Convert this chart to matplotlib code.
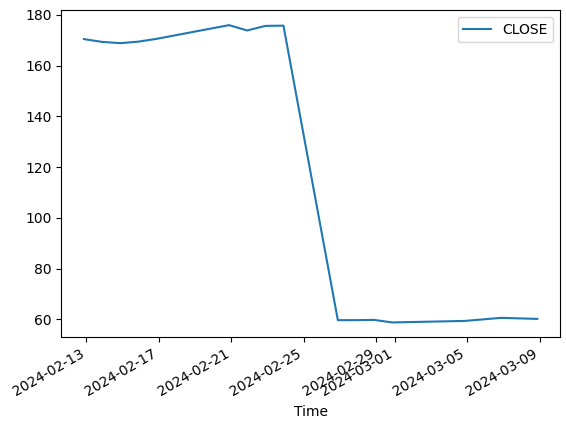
import numpy as np
import matplotlib
matplotlib.use("Agg")
import matplotlib.pyplot as plt

# timestamps sit a few hours before midnight
dates = np.array(['2024-02-12T21:00', '2024-02-13T21:00', '2024-02-14T21:00', '2024-02-15T21:00',
                  '2024-02-16T21:00', '2024-02-20T21:00', '2024-02-21T21:00', '2024-02-22T21:00',
                  '2024-02-23T21:00', '2024-02-26T21:00', '2024-02-27T21:00', '2024-02-28T21:00',
                  '2024-02-29T21:00', '2024-03-04T21:00', '2024-03-06T21:00', '2024-03-08T21:00'],
                 dtype='datetime64[m]')
close = [170.4, 169.3, 168.8, 169.4, 170.5,
         175.9, 173.8, 175.6, 175.7,
         59.7, 59.7, 59.8, 58.8,
         59.4, 60.6, 60.2]

fig, ax = plt.subplots(figsize=(5.66, 4.28), dpi=100)
ax.plot(dates, close, label='CLOSE')
ax.set_xlabel('Time')
ax.legend(loc='upper right')
fig.autofmt_xdate()
fig.subplots_adjust(left=0.1083, right=0.9894, top=0.976, bottom=0.2119)
fig.savefig('out.png')
